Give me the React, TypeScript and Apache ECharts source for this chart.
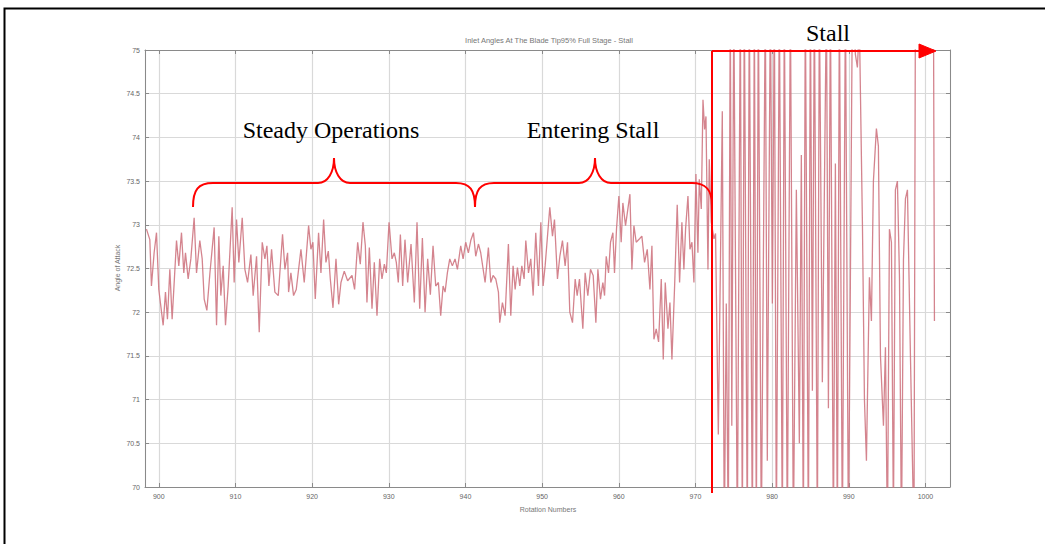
import React, { useEffect, useRef } from "react";
import * as echarts from "echarts";

const rotations = [
  898.39, 898.83, 899.04, 899.39, 899.7, 900.0, 900.57, 900.87, 901.13, 901.44, 901.74, 902.31, 902.61, 902.96, 903.26, 903.48, 903.83, 904.18, 904.61, 904.92,
  905.35, 905.66, 905.92, 906.27, 906.66, 907.22, 907.53, 907.83, 908.09, 908.4, 908.7, 909.05, 909.57, 909.83, 910.14, 910.44, 910.88, 911.23, 911.58, 912.01,
  912.31, 912.75, 913.1, 913.49, 913.84, 914.1, 914.36, 914.71, 915.14, 915.58, 916.14, 916.45, 916.8,
  916.93, 917.23, 917.58, 917.93, 918.54, 918.97, 919.54, 919.84, 920.1, 920.41, 920.84, 921.15, 921.5, 921.8, 922.11, 922.37, 922.72, 923.11, 923.46, 923.76,
  924.19, 924.63, 925.2, 925.54, 925.94, 926.28, 926.63, 926.94, 927.15, 927.46, 927.81, 928.11, 928.46, 928.81, 929.11, 929.42, 929.68, 930.03, 930.42, 930.72,
  930.98, 931.24, 931.51, 931.81, 932.11, 932.46, 932.9, 933.33, 933.68, 934.03, 934.38, 934.73, 935.07, 935.42,
  935.77, 936.12, 936.47, 936.77, 937.08, 937.34, 937.64, 937.95, 938.29, 938.64, 938.95, 939.38, 939.69, 940.03, 940.38, 940.69, 941.04, 941.34, 941.69, 941.99,
  942.56, 942.99, 943.3, 943.6, 943.95, 944.3, 944.47, 944.82, 945.17, 945.6, 945.91, 946.21, 946.48, 946.78, 947.08, 947.35, 947.65, 947.87, 948.22, 948.52,
  948.83, 949.17, 949.52, 949.83, 950.13, 950.39, 951.0, 951.35, 951.61, 952.0, 952.31, 952.65, 953.0, 953.31, 953.61, 953.96,
  954.31, 954.57, 954.87, 955.31, 955.61, 955.96, 956.31, 956.66, 957.01, 957.27, 957.61, 957.92, 958.14, 958.36, 958.66, 958.92, 959.23, 959.44, 959.7, 960.01,
  960.31, 960.53, 960.88, 961.18, 961.45, 961.71, 961.97, 962.27, 962.71, 963.01, 963.36, 963.71, 964.06, 964.32, 964.58, 964.88, 965.19, 965.54, 965.8, 966.06,
  966.41, 966.67, 966.93, 967.28, 967.62, 967.93, 968.23, 968.49, 968.71, 969.02, 969.28, 969.54, 969.8, 970.06, 970.32, 970.5, 970.76, 970.98, 971.19, 971.37,
  971.63, 971.8, 972.06, 972.41,
  972.62, 972.98, 973.5, 973.76, 974.02, 974.28, 974.54, 974.74, 975.0, 975.2, 975.46, 975.85, 976.11, 976.37, 976.76, 977.02, 977.42, 977.68, 977.94, 978.2,
  978.59, 979.11, 979.37, 979.77, 980.03, 980.29, 980.55, 980.94, 981.33, 981.59, 981.98, 982.38, 982.77, 983.16, 983.55, 983.81, 984.07, 984.33, 984.73, 984.99,
  985.25, 985.51, 985.9, 986.16, 986.55, 987.08, 987.34, 987.6, 987.99, 988.25, 988.51, 988.77, 989.16, 989.56, 989.95, 990.21, 990.47, 990.86, 991.12, 991.38,
  991.78, 992.04, 992.3, 992.69, 992.95, 993.21, 993.6, 993.86, 994.13, 994.52, 994.78, 995.04, 995.3, 995.56, 995.82, 996.08, 996.34, 996.61, 996.87, 997.13,
  997.39, 997.65, 998.04, 998.3, 998.5, 998.69, 1001.04, 1001.17,
];

const angles = [
  72.95, 72.83, 72.3, 72.68, 72.91, 72.26, 71.85, 72.23, 71.92, 72.49, 71.92, 72.82, 72.53, 72.91, 72.45, 72.68, 72.38, 72.61, 73.08, 72.45,
  72.82, 72.61, 72.15, 72.02, 72.44, 72.97, 71.85, 72.87, 72.19, 72.53, 71.85, 72.3, 73.2, 72.34, 73.06, 72.57, 73.08, 72.49, 72.34, 72.66,
  72.19, 72.64, 71.77, 72.8, 72.61, 72.76, 72.3, 72.72, 72.23, 72.19, 72.89, 72.49, 72.68,
  72.23, 72.45, 72.19, 72.26, 72.72, 72.34, 72.99, 72.72, 72.8, 72.15, 72.91, 72.45, 73.06, 72.57, 72.7, 72.38, 72.05, 72.61, 72.09, 72.34,
  72.47, 72.36, 72.42, 72.26, 72.8, 72.55, 73.03, 72.76, 72.11, 72.74, 72.04, 72.57, 71.96, 72.61, 72.38, 72.55, 72.45, 73.03, 72.61, 72.68,
  72.57, 72.34, 72.89, 72.3, 72.83, 72.34, 72.78, 72.11, 73.03, 72.04, 72.85, 72.0, 72.61, 72.2,
  72.76, 72.3, 72.34, 71.96, 72.3, 72.23, 72.45, 72.61, 72.53, 72.61, 72.49, 72.76, 72.61, 72.8, 72.68, 72.82, 72.91, 72.64, 72.78, 72.68,
  72.34, 72.74, 72.34, 72.42, 72.38, 72.23, 71.88, 72.11, 71.96, 72.78, 71.96, 72.53, 72.26, 72.51, 72.3, 72.53, 72.38, 72.82, 72.45, 72.61,
  72.19, 72.91, 72.3, 73.03, 72.3, 72.53, 73.2, 72.87, 73.06, 72.38, 72.64, 72.82, 72.53, 72.8, 72.0, 71.88,
  72.38, 72.19, 72.38, 71.81, 72.45, 72.19, 72.49, 72.42, 71.88, 72.49, 72.15, 72.34, 72.19, 72.64, 72.45, 72.8, 72.91, 72.45, 72.95, 73.33,
  72.8, 73.25, 72.99, 73.18, 73.35, 72.49, 72.99, 72.8, 72.84, 72.87, 72.57, 72.72, 72.26, 72.76, 71.69, 71.81, 71.66, 72.38, 71.46, 72.34,
  71.81, 72.11, 71.46, 72.3, 73.23, 72.34, 73.03, 72.49, 72.95, 73.33, 72.72, 72.8, 72.34, 73.58, 72.68, 73.52, 73.18, 74.43, 74.09, 74.24,
  72.49, 73.75, 73.03, 72.84,
  72.9, 70.6, 74.3, 69.4, 72.1, 69.4, 75.6, 70.7, 75.6, 72.8, 69.4, 75.6, 69.4, 75.6, 69.4, 75.6, 69.4, 75.6, 69.4, 75.6,
  69.4, 75.6, 70.3, 75.6, 72.1, 75.6, 69.4, 75.6, 69.4, 75.6, 69.4, 75.6, 69.4, 73.4, 70.5, 73.8, 69.4, 75.6, 69.4, 75.6,
  71.1, 75.6, 69.4, 75.6, 71.2, 75.6, 70.9, 75.6, 69.4, 73.7, 69.4, 75.6, 69.4, 75.6, 69.4, 72.4, 75.6, 74.95, 74.8, 75.3,
  73.0, 71.0, 70.3, 72.4, 71.9, 73.5, 74.1, 73.9, 71.5, 70.7, 71.6, 69.4, 72.95, 72.8, 69.6, 73.4, 73.5, 72.4, 69.4, 72.6,
  73.3, 73.4, 71.5, 70.3, 69.4, 75.6, 75.6, 71.9,
];

const titleText = "Inlet Angles At The Blade Tip95% Full Stage - Stall";
const yName = "Angle of Attack";
const xName = "Rotation Numbers";
const phaseLabels = ["Steady Operations", "Entering Stall", "Stall"];

export default function App() {
  const ref = useRef<HTMLDivElement>(null);
  useEffect(() => {
    document.body.style.margin = "0";
    const chart = echarts.init(ref.current!, undefined, { renderer: "svg" });
    const data = rotations.map((r, i) => [r, angles[i]]);
    const red = "#ff0000";
    const bw = 2;
    const bez = (x1, y1, cx1, cy1, cx2, cy2, x2, y2) => ({
      type: "bezierCurve",
      shape: { x1, y1, cpx1: cx1, cpy1: cy1, cpx2: cx2, cpy2: cy2, x2, y2 },
      style: { stroke: red, lineWidth: bw, fill: null },
      z: 100,
    });
    const ln = (x1, y1, x2, y2) => ({
      type: "line",
      shape: { x1, y1, x2, y2 },
      style: { stroke: red, lineWidth: bw },
      z: 100,
    });
    const serif = "'Liberation Serif', 'Times New Roman', serif";
    const sans = "'Liberation Sans', Arial, sans-serif";
    const option = {
      animation: false,
      backgroundColor: "#ffffff",
      grid: { left: 145, top: 50, width: 805, height: 437, show: false },
      xAxis: [
        {
          type: "value",
          min: 898.2,
          max: 1003.2,
          splitNumber: 10,
          axisLine: { show: true, lineStyle: { color: "#8a8a8a", width: 1 } },
          axisTick: { show: true, inside: true, length: 4, lineStyle: { color: "#8a8a8a" } },
          axisLabel: {
            showMinLabel: false,
            showMaxLabel: false,
            color: "#666",
            fontSize: 7,
            fontFamily: sans,
            margin: 6,
            formatter: (v) => (Math.abs(v % 10) < 1e-6 ? String(v) : ""),
          },
          splitLine: { show: true, lineStyle: { color: "#d9d9d9", width: 1.2 } },
        },
        {
          type: "value",
          position: "top",
          min: 898.2,
          max: 1003.2,
          splitNumber: 10,
          axisLine: { show: true, onZero: false, lineStyle: { color: "#8a8a8a", width: 1 } },
          axisTick: { show: true, inside: true, length: 4, lineStyle: { color: "#8a8a8a" } },
          axisLabel: { show: false },
          splitLine: { show: false },
        },
      ],
      yAxis: [
        {
          type: "value",
          min: 70,
          max: 75,
          interval: 0.5,
          axisLine: { show: true, lineStyle: { color: "#8a8a8a", width: 1 } },
          axisTick: { show: true, inside: true, length: 4, lineStyle: { color: "#8a8a8a" } },
          axisLabel: { color: "#666", fontSize: 7, fontFamily: sans, margin: 5 },
          splitLine: { show: true, lineStyle: { color: "#d9d9d9", width: 1.2 } },
        },
        {
          type: "value",
          position: "right",
          min: 70,
          max: 75,
          interval: 0.5,
          axisLine: { show: true, onZero: false, lineStyle: { color: "#8a8a8a", width: 1 } },
          axisTick: { show: true, inside: true, length: 4, lineStyle: { color: "#8a8a8a" } },
          axisLabel: { show: false },
          splitLine: { show: false },
        },
      ],
      series: [
        {
          type: "line",
          data,
          xAxisIndex: 0,
          yAxisIndex: 0,
          showSymbol: false,
          symbol: "none",
          clip: true,
          lineStyle: { color: "#cc6f7a", width: 1.3, opacity: 0.85 },
          z: 3,
        },
      ],
      graphic: [
        {
          type: "rect",
          shape: { x: 4.5, y: 8.5, width: 1200, height: 800 },
          style: { stroke: "#000", lineWidth: 2, fill: null },
          silent: true,
        },
        {
          type: "text",
          x: 549,
          y: 40,
          style: { text: titleText, fill: "#777", font: `7.5px ${sans}`, align: "center", verticalAlign: "middle" },
        },
        {
          type: "text",
          x: 117,
          y: 268,
          rotation: Math.PI / 2,
          style: { text: yName, fill: "#777", font: `7px ${sans}`, align: "center", verticalAlign: "middle" },
        },
        {
          type: "text",
          x: 548,
          y: 509,
          style: { text: xName, fill: "#777", font: `7px ${sans}`, align: "center", verticalAlign: "middle" },
        },
        {
          type: "text",
          x: 331,
          y: 130,
          style: { text: phaseLabels[0], fill: "#000", font: `24px ${serif}`, align: "center", verticalAlign: "middle" },
          z: 100,
        },
        {
          type: "text",
          x: 593,
          y: 130,
          style: { text: phaseLabels[1], fill: "#000", font: `24px ${serif}`, align: "center", verticalAlign: "middle" },
          z: 100,
        },
        {
          type: "text",
          x: 828,
          y: 33,
          style: { text: phaseLabels[2], fill: "#000", font: `24px ${serif}`, align: "center", verticalAlign: "middle" },
          z: 100,
        },
        bez(193, 207, 193, 190, 198, 183, 213, 183),
        ln(213, 183, 318, 183),
        bez(318, 183, 328, 183, 334, 172, 334, 158),
        bez(334, 158, 334, 172, 340, 183, 350, 183),
        ln(350, 183, 456, 183),
        bez(456, 183, 470, 183, 475, 190, 475, 207),
        bez(475, 207, 475, 190, 480, 183, 494, 183),
        ln(494, 183, 579, 183),
        bez(579, 183, 589, 183, 595, 172, 595, 158),
        bez(595, 158, 595, 172, 601, 183, 611, 183),
        ln(611, 183, 692, 183),
        bez(692, 183, 706, 183, 712, 190, 712, 205),
        ln(712, 51, 712, 493),
        ln(712, 51, 922, 51),
        {
          type: "polygon",
          shape: { points: [[919, 44], [936, 51], [919, 58]] },
          style: { fill: red, stroke: red, lineWidth: 1 },
          z: 100,
        },
      ],
    };
    chart.setOption(option);
    return () => chart.dispose();
  }, []);
  return <div ref={ref} style={{ width: 1045, height: 544, background: "#fff" }} />;
}
